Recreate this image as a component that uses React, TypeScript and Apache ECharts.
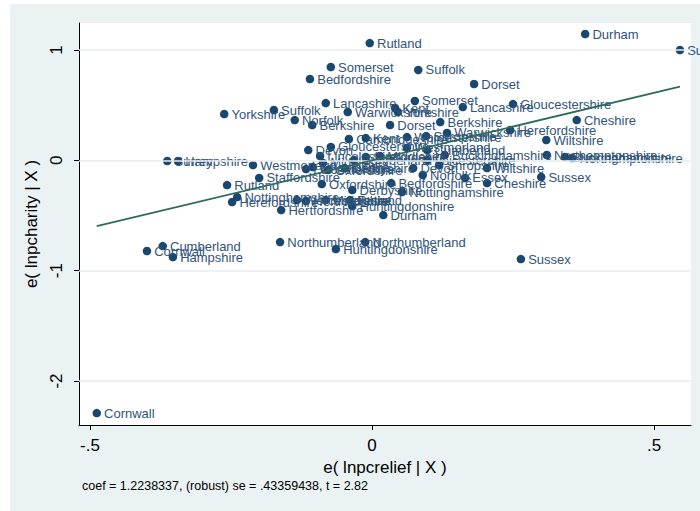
import React, { useEffect, useRef } from "react";
import * as echarts from "echarts";

const names = [
  "Durham", "Sussex", "Rutland", "Somerset", "Suffolk", "Bedfordshire", "Dorset", "Lancashire",
  "Somerset", "Kent", "Yorkshire", "Lancashire", "Gloucestershire", "Warwickshire", "Suffolk", "Yorkshire",
  "Norfolk", "Berkshire", "Dorset", "Berkshire", "Cheshire", "Herefordshire", "Warwickshire", "Wiltshire",
  "Cambridgeshire", "Kent", "Worcestershire", "Shropshire", "Devon", "Gloucestershire", "Lincolnshire", "Cumberland",
  "Buckinghamshire", "Northamptonshire", "Buckinghamshire", "Northamptonshire", "Surrey", "Hampshire", "Westmorland", "Staffordshire",
  "Rutland", "Nottinghamshire", "Herefordshire", "Leicestershire", "Lincolnshire", "Middlesex", "Oxfordshire", "Oxfordshire",
  "Cumberland", "Staffordshire", "Middlesex", "Derbyshire", "Bedfordshire", "Nottinghamshire", "Norfolk", "Essex",
  "Cheshire", "Wiltshire", "Shropshire", "Devon", "Leicestershire", "Hertfordshire", "Worcestershire", "Hertfordshire",
  "Middlesex", "Rutland", "Huntingdonshire", "Durham", "Cumberland", "Cornwall", "Hampshire", "Northumberland",
  "Northumberland", "Huntingdonshire", "Sussex", "Cornwall", "Sussex", "Westmorland", "Derbyshire"
];

const xValues = [
  0.378, 0.546, -0.004, -0.073, 0.082, -0.110, 0.181, -0.082,
  0.076, 0.041, 0.046, 0.161, 0.250, -0.043, -0.174, -0.262,
  -0.137, -0.106, 0.032, 0.121, 0.363, 0.245, 0.133, 0.309,
  -0.041, -0.011, 0.062, 0.096, -0.113, -0.073, -0.092, 0.098,
  0.129, 0.310, 0.342, 0.355, -0.363, -0.344, -0.211, -0.200,
  -0.257, -0.239, -0.248, -0.117, -0.105, -0.087, -0.089, -0.078,
  -0.032, -0.011, 0.014, -0.035, 0.034, 0.053, 0.090, 0.165,
  0.204, 0.204, 0.119, 0.073, 0.098, -0.161, -0.133, -0.117,
  -0.082, -0.039, -0.035, 0.020, -0.371, -0.399, -0.353, -0.163,
  -0.012, -0.064, 0.264, -0.488, 0.300, 0.062, -0.048
];

const yValues = [
  1.145, 1.000, 1.063, 0.846, 0.819, 0.737, 0.692, 0.519,
  0.538, 0.474, 0.438, 0.483, 0.510, 0.438, 0.456, 0.420,
  0.365, 0.320, 0.320, 0.347, 0.365, 0.275, 0.248, 0.184,
  0.193, 0.202, 0.211, 0.220, 0.093, 0.121, 0.039, 0.093,
  0.048, 0.048, 0.030, 0.021, -0.006, -0.006, -0.043, -0.160,
  -0.224, -0.333, -0.378, -0.079, -0.061, -0.024, -0.215, -0.088,
  0.003, 0.030, 0.039, -0.269, -0.206, -0.287, -0.133, -0.160,
  -0.206, -0.070, -0.043, -0.070, 0.003, -0.451, -0.360, -0.369,
  -0.360, -0.360, -0.414, -0.496, -0.777, -0.822, -0.877, -0.741,
  -0.741, -0.804, -0.895, -2.291, -0.151, 0.112, -0.070
];

const fitX = [-0.488, 0.546];
const fitY = [-0.597, 0.668];

const xTicks = [-0.5, 0, 0.5];
const xTickLabels = ["-.5", "0", ".5"];
const yTicks = [1, 0, -1, -2];
const yTickLabels = ["1", "0", "-1", "-2"];

const xTitle = "e( lnpcrelief | X )";
const yTitle = "e( lnpcharity | X )";
const note = "coef = 1.2238337, (robust) se = .43359438, t = 2.82";

const FONT = "'Liberation Sans', Arial, sans-serif";
const NAVY = "#1a476f";

export default function App() {
  const ref = useRef<HTMLDivElement>(null);

  useEffect(() => {
    if (!ref.current) return;
    const chart = echarts.init(ref.current, undefined, { renderer: "svg" });

    const points = names.map((n, i) => ({ name: n, value: [xValues[i], yValues[i]] }));
    const fitData = fitX.map((x, i) => [x, fitY[i]]);

    const fmt = (ticks: number[], labels: string[]) => (v: number) => {
      const idx = ticks.findIndex((t) => Math.abs(t - v) < 1e-9);
      return idx >= 0 ? labels[idx] : "";
    };

    chart.setOption({
      animation: false,
      backgroundColor: "#eaf2f3",
      graphic: [
        { type: "rect", left: 0, top: 0, shape: { width: 10, height: 511 }, style: { fill: "#ffffff" }, z: 100 },
        { type: "rect", left: 0, top: 0, shape: { width: 700, height: 4 }, style: { fill: "#ffffff" }, z: 100 },
        {
          type: "text",
          left: 82,
          top: 479,
          style: { text: note, font: `12.5px ${FONT}`, fill: "#000" },
          z: 100,
        },
      ],
      grid: {
        left: 79,
        top: 23,
        right: 9,
        bottom: 86,
        show: true,
        backgroundColor: "#ffffff",
        borderWidth: 0,
      },
      xAxis: {
        type: "value",
        min: -0.5195,
        max: 0.5656,
        name: xTitle,
        nameLocation: "middle",
        nameGap: 29,
        nameTextStyle: { fontFamily: FONT, fontSize: 17, color: "#000" },
        axisLine: { show: true, onZero: false, lineStyle: { color: "#000", width: 1 } },
        axisTick: { show: true, customValues: xTicks, length: 5, lineStyle: { color: "#000" } },
        axisLabel: {
          customValues: xTicks,
          formatter: fmt(xTicks, xTickLabels),
          margin: 12,
          fontFamily: FONT,
          fontSize: 17,
          color: "#000",
        },
        splitLine: { show: false },
      },
      yAxis: {
        type: "value",
        min: -2.399,
        max: 1.245,
        name: yTitle,
        nameLocation: "middle",
        nameGap: 30,
        nameTextStyle: { fontFamily: FONT, fontSize: 17, color: "#000" },
        axisLine: { show: true, onZero: false, lineStyle: { color: "#000", width: 1 } },
        axisTick: { show: true, customValues: yTicks, length: 5, lineStyle: { color: "#000" } },
        axisLabel: {
          customValues: yTicks,
          formatter: fmt(yTicks, yTickLabels),
          rotate: 90,
          margin: 14,
          fontFamily: FONT,
          fontSize: 17,
          color: "#000",
        },
        splitLine: { show: false },
      },
      series: [
        {
          type: "line",
          data: [],
          silent: true,
          z: 1,
          markLine: {
            silent: true,
            symbol: "none",
            label: { show: false },
            lineStyle: { color: "#e6eef1", width: 1.5, type: "solid" },
            data: yTicks.map((t) => ({ yAxis: t })),
          },
        },
        {
          type: "scatter",
          data: points,
          symbol: "circle",
          symbolSize: 8.5,
          z: 3,
          itemStyle: { color: NAVY, opacity: 1 },
          label: {
            show: true,
            position: "right",
            distance: 3,
            formatter: "{b}",
            fontFamily: FONT,
            fontSize: 13,
            color: "#2f5479",
          },
        },
        {
          type: "line",
          data: fitData,
          showSymbol: false,
          symbol: "none",
          z: 5,
          lineStyle: { color: "#2e6b5c", width: 1.8 },
        },
      ],
    });

    return () => chart.dispose();
  }, []);

  return (
    <div
      ref={ref}
      style={{ position: "fixed", left: 0, top: 0, width: 700, height: 511 }}
    />
  );
}
